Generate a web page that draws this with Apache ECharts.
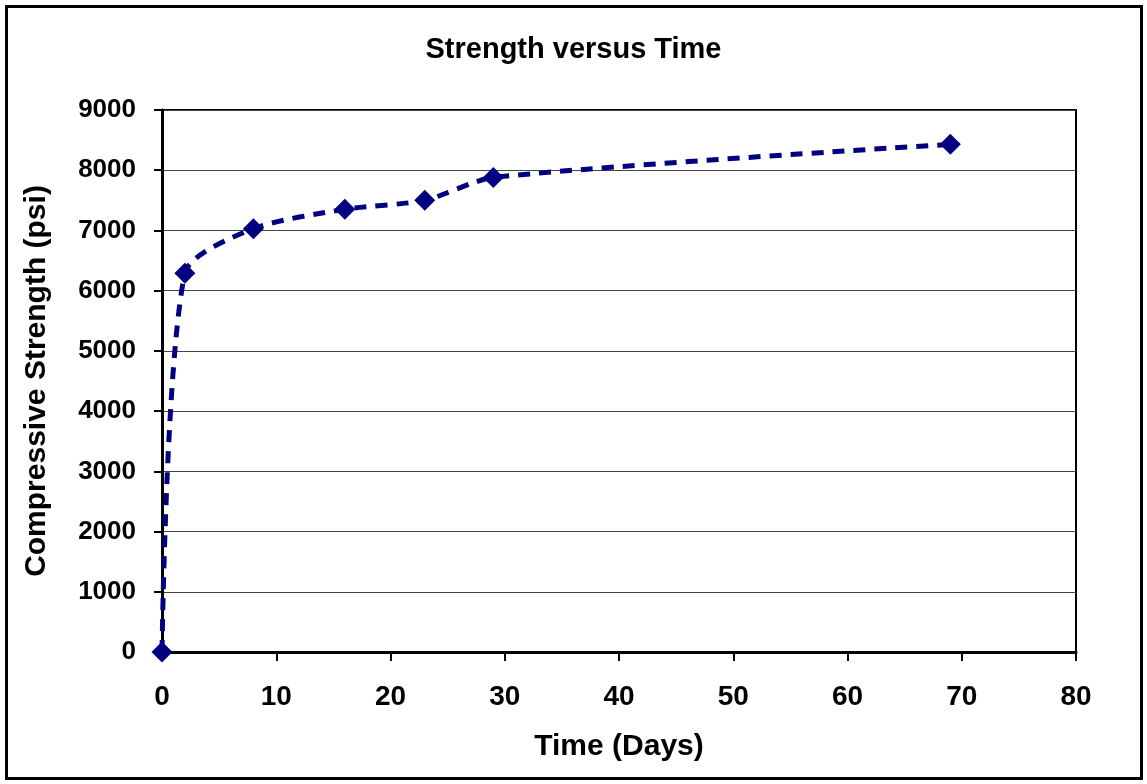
<!DOCTYPE html>
<html>
<head>
<meta charset="utf-8">
<script src="https://cdn.jsdelivr.net/npm/echarts@6/dist/echarts.min.js"></script>
<style>
    html, body { margin: 0; padding: 0; background: #fff; }
    #mychart { width: 1147px; height: 784px; }
</style>
</head>
<body>
<div id="mychart"></div>
<script>
// 数据: 龄期(天) 与 抗压强度(psi)
var days = [0, 2, 8, 16, 23, 29, 69];
var strength = [0, 6290, 7030, 7350, 7500, 7880, 8430];

var points = days.map(function (d, i) { return [d, strength[i]]; });

var font = 'Liberation Sans, Arial, sans-serif';
var myChart = echarts.init(document.getElementById('mychart'));

var option = {
    backgroundColor: '#ffffff',
    animation: false,
    title: {
        text: 'Strength versus Time',
        left: 'center',
        top: 30,
        textStyle: { fontFamily: font, fontSize: 29, fontWeight: 'bold', color: '#000' }
    },
    // 外框
    graphic: [{
        type: 'rect',
        shape: { x: 6.5, y: 6.5, width: 1135, height: 772 },
        style: { fill: 'none', stroke: '#000', lineWidth: 3 }
    }],
    grid: {
        left: 162,
        right: 71,
        top: 110,
        bottom: 132,
        show: true,
        borderColor: '#000',
        borderWidth: 2,
        containLabel: false
    },
    xAxis: {
        type: 'value',
        min: 0,
        max: 80,
        interval: 10,
        name: 'Time (Days)',
        nameLocation: 'middle',
        nameGap: 80,
        nameTextStyle: { fontFamily: font, fontSize: 30, fontWeight: 'bold', color: '#000' },
        axisLine: { show: true, onZero: false, lineStyle: { color: '#000', width: 3 } },
        axisTick: { show: true, length: 9, lineStyle: { color: '#000', width: 2 } },
        axisLabel: { margin: 31, fontFamily: font, fontSize: 28, fontWeight: 'bold', color: '#000' },
        splitLine: { show: false }
    },
    yAxis: {
        type: 'value',
        min: 0,
        max: 9000,
        interval: 1000,
        name: 'Compressive Strength (psi)',
        nameLocation: 'middle',
        nameGap: 110,
        nameTextStyle: { fontFamily: font, fontSize: 30, fontWeight: 'bold', color: '#000' },
        axisLine: { show: true, lineStyle: { color: '#000', width: 3 } },
        axisTick: { show: true, length: 8, lineStyle: { color: '#000', width: 2 } },
        axisLabel: {
            margin: 26, fontFamily: font, fontSize: 26, fontWeight: 'bold', color: '#000',
            formatter: function (v) { return String(v); }
        },
        splitLine: { show: true, lineStyle: { color: '#444', width: 1 } }
    },
    series: [{
        type: 'line',
        data: points,
        smooth: 0.25,
        symbol: 'diamond',
        symbolSize: 21,
        showSymbol: true,
        lineStyle: { color: '#000080', width: 5, type: [12, 9] },
        itemStyle: { color: '#000080', borderWidth: 0 }
    }]
};
myChart.setOption(option);
</script>
</body>
</html>
